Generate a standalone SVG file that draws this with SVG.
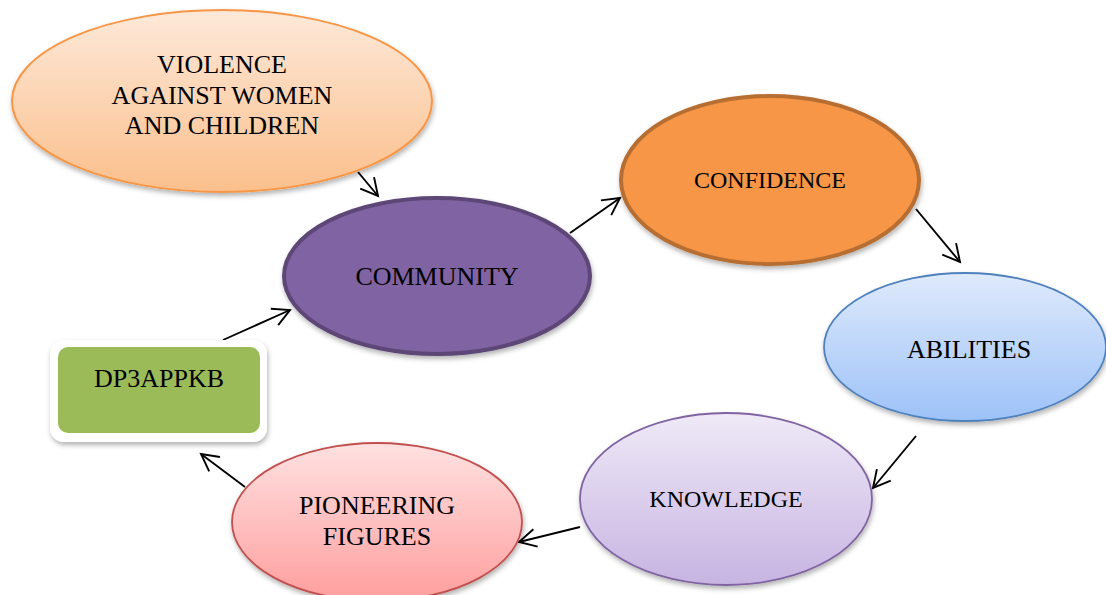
<svg xmlns="http://www.w3.org/2000/svg" width="1106" height="595" viewBox="0 0 1106 595">
<style>
  text { font-family: "Liberation Serif", "Times New Roman", serif; fill: #000; text-anchor: middle; }
  .t26 { font-size: 26px; }
  .t24 { font-size: 24px; }
  .conn line { stroke: #000; stroke-width: 1.9; fill: none; marker-end: url(#arr); }
</style>
<defs>
  <marker id="arr" markerUnits="userSpaceOnUse" viewBox="-20 -11 22 22" refX="0" refY="0" markerWidth="22" markerHeight="22" orient="auto" overflow="visible">
    <path d="M-17,-9 L0,0 L-17,9" fill="none" stroke="#000" stroke-width="1.9"/>
  </marker>
  <filter id="sh" x="-10%" y="-10%" width="125%" height="130%">
    <feDropShadow dx="1" dy="3" stdDeviation="2.5" flood-color="#000" flood-opacity="0.3"/>
  </filter>
  <linearGradient id="gViol" x1="0" y1="0" x2="0" y2="1">
    <stop offset="0" stop-color="#fde9d9"/>
    <stop offset="1" stop-color="#fbbf8c"/>
  </linearGradient>
  <linearGradient id="gAbil" x1="0" y1="0" x2="0" y2="1">
    <stop offset="0" stop-color="#dfeafc"/>
    <stop offset="1" stop-color="#9dc2f8"/>
  </linearGradient>
  <linearGradient id="gKnow" x1="0" y1="0" x2="0" y2="1">
    <stop offset="0" stop-color="#efe9f7"/>
    <stop offset="1" stop-color="#c7b4e2"/>
  </linearGradient>
  <linearGradient id="gPion" x1="0" y1="0" x2="0" y2="1">
    <stop offset="0" stop-color="#ffe1e1"/>
    <stop offset="1" stop-color="#ff9e9e"/>
  </linearGradient>
</defs>

<g id="connectors" class="conn">
  <line x1="358" y1="172" x2="378" y2="196"/>
  <line x1="570" y1="233" x2="620" y2="198"/>
  <line x1="916" y1="209" x2="960" y2="262"/>
  <line x1="916" y1="436" x2="873" y2="488"/>
  <line x1="580" y1="527" x2="519" y2="542"/>
  <line x1="245" y1="487" x2="201" y2="454"/>
  <line x1="223" y1="340" x2="290" y2="310"/>
</g>

<g id="violence">
  <ellipse cx="222" cy="101" rx="210" ry="91" fill="url(#gViol)" stroke="#f79646" stroke-width="2" filter="url(#sh)"/>
  <text class="t26" x="222" y="73">VIOLENCE</text>
  <text class="t26" x="222" y="104">AGAINST WOMEN</text>
  <text class="t26" x="222" y="134">AND CHILDREN</text>
</g>

<g id="community">
  <ellipse cx="437" cy="276" rx="153" ry="78" fill="#8064a2" stroke="#5c4677" stroke-width="4" filter="url(#sh)"/>
  <text class="t26" x="437" y="285">COMMUNITY</text>
</g>

<g id="confidence">
  <ellipse cx="770" cy="180" rx="149" ry="84" fill="#f79646" stroke="#b76e31" stroke-width="4" filter="url(#sh)"/>
  <text class="t24" x="770" y="188">CONFIDENCE</text>
</g>

<g id="abilities">
  <ellipse cx="965" cy="347" rx="141" ry="74" fill="url(#gAbil)" stroke="#4f81bd" stroke-width="1.8" filter="url(#sh)"/>
  <text class="t26" x="969" y="358">ABILITIES</text>
</g>

<g id="knowledge">
  <ellipse cx="726" cy="499" rx="146" ry="86" fill="url(#gKnow)" stroke="#8064a2" stroke-width="1.8" filter="url(#sh)"/>
  <text class="t24" x="726" y="507">KNOWLEDGE</text>
</g>

<g id="pioneering">
  <ellipse cx="377" cy="522" rx="145" ry="79" fill="url(#gPion)" stroke="#c0504d" stroke-width="1.8" filter="url(#sh)"/>
  <text class="t26" x="377" y="514">PIONEERING</text>
  <text class="t26" x="377" y="545">FIGURES</text>
</g>

<g id="dp3appkb">
  <rect x="50" y="340" width="217" height="102" rx="14" ry="14" fill="#ffffff" filter="url(#sh)"/>
  <rect x="58" y="347" width="202" height="86" rx="10" ry="10" fill="#9bbb59"/>
  <text class="t26" x="159" y="387">DP3APPKB</text>
</g>
</svg>
